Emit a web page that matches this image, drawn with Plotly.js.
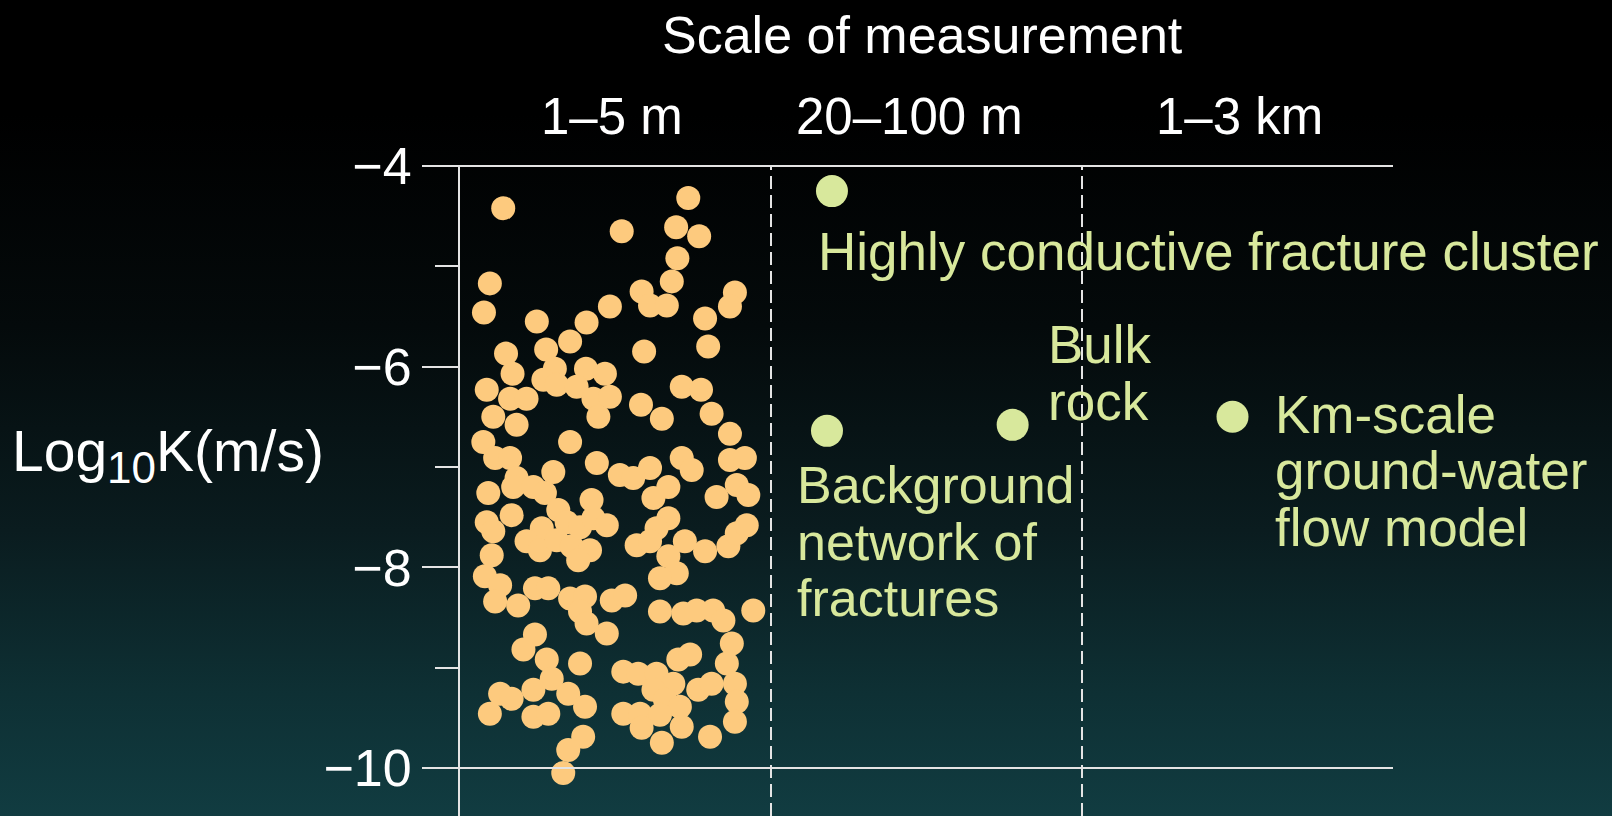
<!DOCTYPE html>
<html>
<head>
<meta charset="utf-8">
<script src="https://cdn.plot.ly/plotly-3.0.1.min.js"></script>
<style>
  html, body { margin: 0; padding: 0; width: 1612px; height: 816px; overflow: hidden; }
  body { background: linear-gradient(180deg, #000000 0%, #000000 14%, #040a0b 40%, #0a1c1f 65%, #0e3034 85%, #113c41 100%); }
  #chart { width: 1612px; height: 816px; }
</style>
</head>
<body>
<div id="chart"></div>
<script>
// Categories (scale of measurement)
const categories = ["1–5 m", "20–100 m", "1–3 km"];

// Y tick labels
const yTickVals = [-4, -6, -8, -10];
const yTickText = ["−4", "−6", "−8", "−10"];

// Small-scale (1–5 m) measurements: position within column (0–1) and log10 K
const smallX = [0.139,0.734,0.52,0.695,0.769,0.699,0.096,0.681,0.884,0.077,0.584,0.611,0.665,0.868,0.788,0.482,0.407,0.247,0.354,0.592,0.798,0.148,0.277,0.169,0.305,0.405,0.466,0.268,0.086,0.161,0.214,0.311,0.375,0.429,0.482,0.713,0.775,0.582,0.649,0.809,0.107,0.182,0.445,0.868,0.354,0.075,0.113,0.161,0.30,0.44,0.514,0.611,0.713,0.745,0.868,0.916,0.182,
0.557,0.89,0.927,0.825,0.67,0.622,0.091,0.171,0.236,0.273,0.423,0.166,0.086,0.107,0.316,0.343,0.263,0.214,0.257,0.311,0.359,0.386,0.418,0.38,0.429,0.472,0.67,0.632,0.568,0.611,0.723,0.788,0.863,0.89,0.922,0.67,0.697,0.643,0.102,0.08,0.129,0.113,0.187,0.241,0.284,0.354,0.402,0.488,0.531,0.386,0.407,0.472,0.643,0.718,0.761,0.814,0.847,0.943,0.874,0.858,0.241,0.204,0.279,0.386,0.295,0.236,0.129,0.166,0.096,0.236,0.284,0.348,0.402,0.396,0.348,0.332,0.525,0.573,0.632,0.702,0.74,0.686,0.622,0.659,0.707,0.525,0.579,0.643,0.584,0.713,0.649,0.766,0.809,0.884,0.89,0.884,0.804];
const smallY = [-4.42,-4.32,-4.65,-4.61,-4.70,-4.92,-5.17,-5.15,-5.26,-5.46,-5.25,-5.39,-5.39,-5.40,-5.52,-5.40,-5.56,-5.55,-5.75,-5.85,-5.80,-5.87,-5.83,-6.07,-6.02,-6.02,-6.07,-6.13,-6.23,-6.32,-6.32,-6.18,-6.20,-6.32,-6.30,-6.20,-6.23,-6.38,-6.52,-6.47,-6.50,-6.58,-6.50,-6.67,-6.75,-6.75,-6.91,-6.91,-7.05,-6.96,-7.08,-7.01,-6.91,-7.03,-6.93,-6.91,-7.11,
-7.11,-7.18,-7.28,-7.30,-7.20,-7.31,-7.26,-7.20,-7.20,-7.26,-7.33,-7.48,-7.55,-7.64,-7.43,-7.55,-7.61,-7.74,-7.83,-7.73,-7.79,-7.60,-7.83,-7.93,-7.51,-7.58,-7.51,-7.61,-7.78,-7.74,-7.74,-7.84,-7.79,-7.66,-7.58,-7.89,-8.06,-8.11,-7.88,-8.09,-8.18,-8.34,-8.38,-8.21,-8.21,-8.31,-8.29,-8.33,-8.28,-8.44,-8.56,-8.66,-8.44,-8.46,-8.43,-8.43,-8.53,-8.43,-8.76,-8.96,-8.67,-8.82,-8.92,-8.96,-9.11,-9.22,-9.26,-9.31,-9.46,-9.49,-9.46,-9.26,-9.39,-9.69,-9.82,-10.05,-9.04,-9.06,-9.06,-8.92,-8.87,-9.16,-9.22,-9.32,-9.39,-9.46,-9.46,-9.47,-9.60,-9.59,-9.75,-9.22,-9.16,-9.16,-9.34,-9.54,-9.69];

// Larger-scale estimates
const largeNames = ["Highly conductive fracture cluster", "Background network of fractures", "Bulk rock", "Km-scale ground-water flow model"];
const largeX = [1.196, 1.18, 1.777, 2.484];
const largeY = [-4.25, -6.64, -6.58, -6.50];

// Label lines
const labelHighly = ["Highly conductive fracture cluster"];
const labelBulk = ["Bulk", "rock"];
const labelBackground = ["Background", "network of", "fractures"];
const labelKm = ["Km-scale", "ground-water", "flow model"];

const FONT = '"Liberation Sans", Arial, Helvetica, sans-serif';
const WHITE = '#ffffff';
const LINE = '#e4e4e4';
const ORANGE = '#fdca7e';
const GREEN = '#d8e89c';

const traces = [
  {
    type: 'scatter', mode: 'markers', x: smallX, y: smallY,
    marker: { size: 24, color: ORANGE, line: { width: 0 } },
    hoverinfo: 'skip', cliponaxis: false
  },
  {
    type: 'scatter', mode: 'markers', x: largeX, y: largeY, text: largeNames,
    marker: { size: 32, color: GREEN, line: { width: 0 } },
    hoverinfo: 'text', cliponaxis: false
  }
];

// plot area in pixels: left 460, width 933; top 165, height 651
const PX = px => (px - 460) / 933;
const PY = py => (816 - py) / 651;

const annotations = [];
function addPaper(text, px, py, size, color, xanchor) {
  annotations.push({
    text: text, x: PX(px), y: PY(py), xref: 'paper', yref: 'paper',
    xanchor: xanchor, yanchor: 'middle', showarrow: false,
    font: { family: FONT, size: size, color: color }
  });
}
function addData(text, x, y, size, color) {
  annotations.push({
    text: text, x: x, y: y, xref: 'x', yref: 'y',
    xanchor: 'left', yanchor: 'middle', showarrow: false,
    font: { family: FONT, size: size, color: color }
  });
}
// Title
addPaper("Scale of measurement", 922, 35, 52, WHITE, 'center');
// Category labels
const catPx = [612, 909, 1239];
categories.forEach((c, i) => addPaper(c, catPx[i], 116, 51, WHITE, 'center'));
// Y title
addPaper("Log<sub><span style=\"font-size:44px\">10</span></sub>K(m/s)", 10, 456, 57, WHITE, 'left');

// Point labels
const gSize = 53;
const lineStep = 0.565;
labelHighly.forEach((t, i) => addData(t, 1.144, -4.857 - i * lineStep, gSize, GREEN));
labelBulk.forEach((t, i) => addData(t, 1.884, -5.784 - i * lineStep, gSize, GREEN));
labelBackground.forEach((t, i) => addData(t, 1.077, -7.18 - i * lineStep, 52, GREEN));
labelKm.forEach((t, i) => addData(t, 2.615, -6.472 - i * lineStep, gSize, GREEN));

const yBottom = -10.479, yTop = -3.99;
const shapes = [
  { type: 'line', xref: 'x', yref: 'y', x0: 0, x1: 3, y0: -4, y1: -4, line: { color: LINE, width: 2 } },
  { type: 'line', xref: 'x', yref: 'y', x0: 0, x1: 3, y0: -10, y1: -10, line: { color: LINE, width: 2 } },
  { type: 'line', xref: 'x', yref: 'y', x0: 1, x1: 1, y0: yBottom, y1: -4, line: { color: LINE, width: 2, dash: '13px,6px' } },
  { type: 'line', xref: 'x', yref: 'y', x0: 2, x1: 2, y0: yBottom, y1: -4, line: { color: LINE, width: 2, dash: '13px,6px' } }
];

const layout = {
  width: 1612, height: 816,
  margin: { l: 460, r: 219, t: 165, b: 0, pad: 0 },
  paper_bgcolor: 'rgba(0,0,0,0)', plot_bgcolor: 'rgba(0,0,0,0)',
  showlegend: false,
  xaxis: { range: [0, 3], visible: false, showgrid: false, zeroline: false, fixedrange: true },
  yaxis: {
    range: [yBottom, yTop], tickmode: 'array', tickvals: yTickVals, ticktext: yTickText,
    ticks: 'outside', ticklen: 36, tickwidth: 2, tickcolor: LINE,
    showline: true, linecolor: LINE, linewidth: 2, showgrid: false, zeroline: false,
    tickfont: { family: FONT, size: 52, color: WHITE },
    minor: { tickmode: 'array', tickvals: [-5, -7, -9], ticks: 'outside', ticklen: 23, tickwidth: 2, tickcolor: LINE, showgrid: false },
    fixedrange: true
  },
  shapes: shapes,
  annotations: annotations,
  font: { family: FONT, color: WHITE }
};

Plotly.newPlot('chart', traces, layout, { displayModeBar: false, staticPlot: true });
</script>
</body>
</html>
